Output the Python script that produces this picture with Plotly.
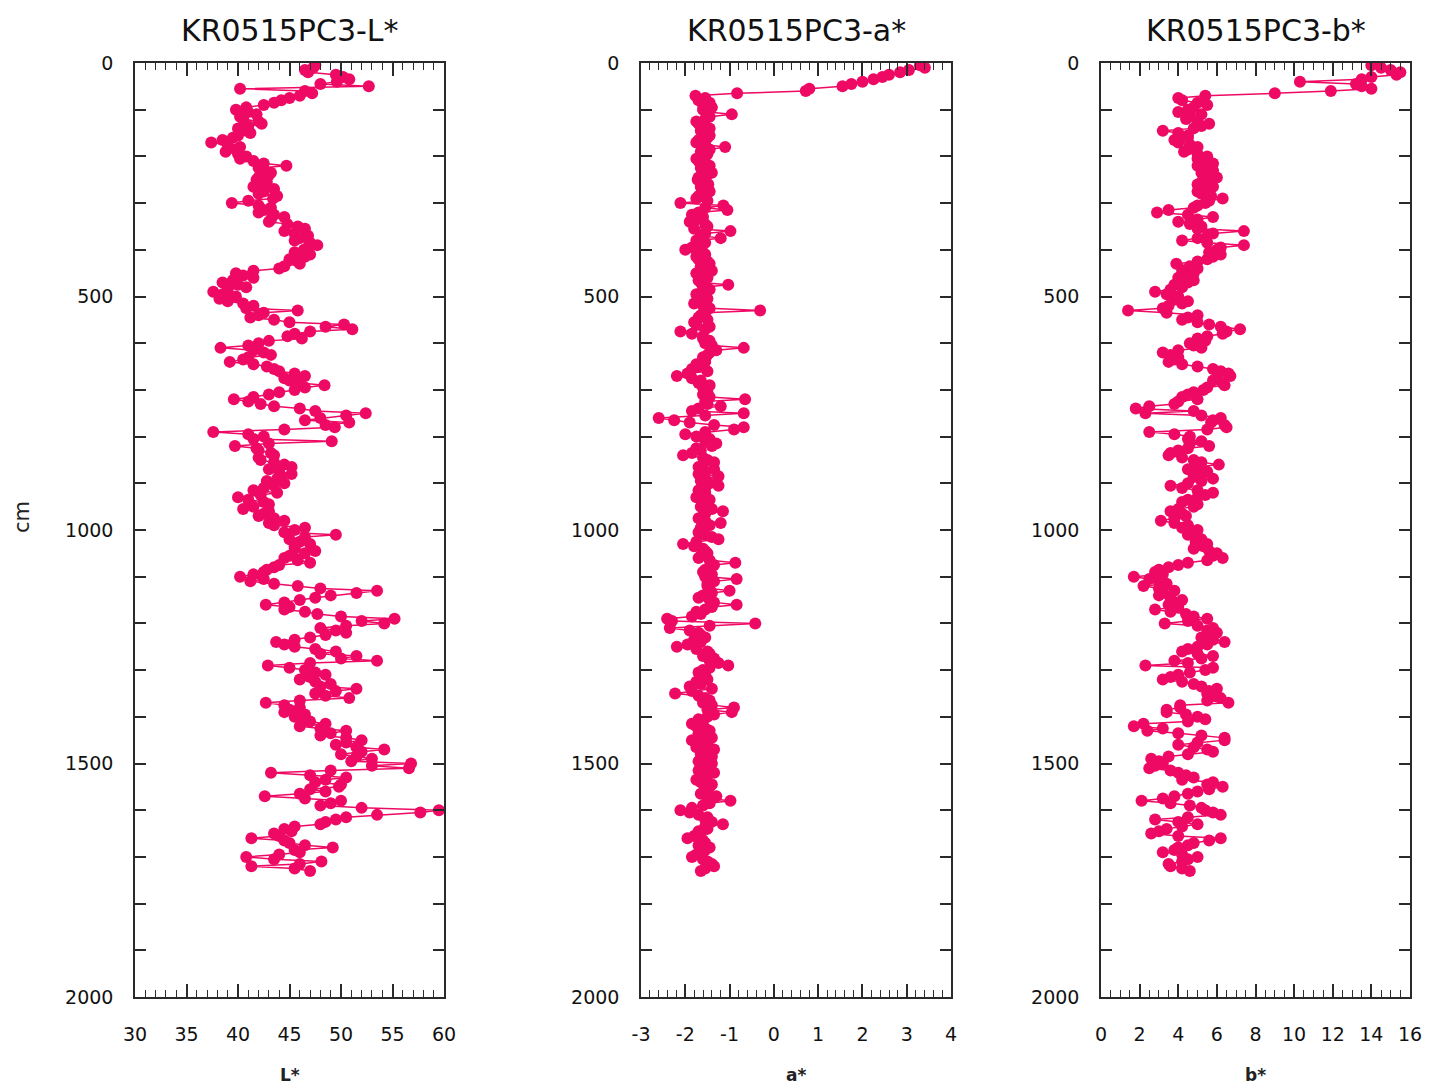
import plotly.graph_objects as go

# Core KR0515PC3 colour reflectance profiles, sampled every 5 cm
depth_cm = [
    5, 10, 15, 20, 25, 30, 35, 40, 45, 50,
    55, 60, 65, 70, 75, 80, 85, 90, 95, 100,
    105, 110, 115, 120, 125, 130, 135, 140, 145, 150,
    155, 160, 165, 170, 175, 180, 185, 190, 195, 200,
    205, 210, 215, 220, 225, 230, 235, 240, 245, 250,
    255, 260, 265, 270, 275, 280, 285, 290, 295, 300,
    305, 310, 315, 320, 325, 330, 335, 340, 345, 350,
    355, 360, 365, 370, 375, 380, 385, 390, 395, 400,
    405, 410, 415, 420, 425, 430, 435, 440, 445, 450,
    455, 460, 465, 470, 475, 480, 485, 490, 495, 500,
    505, 510, 515, 520, 525, 530, 535, 540, 545, 550,
    555, 560, 565, 570, 575, 580, 585, 590, 595, 600,
    605, 610, 615, 620, 625, 630, 635, 640, 645, 650,
    655, 660, 665, 670, 675, 680, 685, 690, 695, 700,
    705, 710, 715, 720, 725, 730, 735, 740, 745, 750,
    755, 760, 765, 770, 775, 780, 785, 790, 795, 800,
    805, 810, 815, 820, 825, 830, 835, 840, 845, 850,
    855, 860, 865, 870, 875, 880, 885, 890, 895, 900,
    905, 910, 915, 920, 925, 930, 935, 940, 945, 950,
    955, 960, 965, 970, 975, 980, 985, 990, 995, 1000,
    1005, 1010, 1015, 1020, 1025, 1030, 1035, 1040, 1045, 1050,
    1055, 1060, 1065, 1070, 1075, 1080, 1085, 1090, 1095, 1100,
    1105, 1110, 1115, 1120, 1125, 1130, 1135, 1140, 1145, 1150,
    1155, 1160, 1165, 1170, 1175, 1180, 1185, 1190, 1195, 1200,
    1205, 1210, 1215, 1220, 1225, 1230, 1235, 1240, 1245, 1250,
    1255, 1260, 1265, 1270, 1275, 1280, 1285, 1290, 1295, 1300,
    1305, 1310, 1315, 1320, 1325, 1330, 1335, 1340, 1345, 1350,
    1355, 1360, 1365, 1370, 1375, 1380, 1385, 1390, 1395, 1400,
    1405, 1410, 1415, 1420, 1425, 1430, 1435, 1440, 1445, 1450,
    1455, 1460, 1465, 1470, 1475, 1480, 1485, 1490, 1495, 1500,
    1505, 1510, 1515, 1520, 1525, 1530, 1535, 1540, 1545, 1550,
    1555, 1560, 1565, 1570, 1575, 1580, 1585, 1590, 1595, 1600,
    1605, 1610, 1615, 1620, 1625, 1630, 1635, 1640, 1645, 1650,
    1655, 1660, 1665, 1670, 1675, 1680, 1685, 1690, 1695, 1700,
    1705, 1710, 1715, 1720, 1725, 1730,
]

L_star = [
    47.5, 47.3, 46.5, 46.8, 49.5, 50.2, 50.8, 49.6, 48.0, 52.7,
    40.2, 46.5, 47.2, 46.0, 45.0, 44.2, 43.5, 42.5, 40.8, 39.8,
    41.0, 41.8, 40.2, 40.5, 42.0, 42.3, 41.0, 40.0, 40.8, 41.2,
    40.0, 39.5, 38.5, 37.4, 39.0, 40.2, 39.8, 38.8, 40.0, 40.8,
    40.2, 41.5, 42.5, 44.7, 42.0, 42.3, 43.2, 43.0, 42.0, 41.8,
    42.8, 42.6, 41.5, 43.5, 42.5, 42.0, 43.8, 43.4, 41.0, 39.4,
    42.0, 43.2, 42.5, 42.0, 43.5, 44.5, 43.2, 43.0, 44.8, 45.8,
    46.5, 44.5, 45.5, 46.8, 46.0, 45.5, 47.0, 47.7, 46.8, 46.4,
    45.5, 47.0, 46.5, 45.0, 45.8, 46.0, 44.5, 44.0, 41.5, 39.8,
    40.5, 41.5, 39.5, 38.5, 40.0, 40.8, 39.0, 37.6, 38.5, 39.8,
    38.2, 39.0, 40.5, 41.5, 40.8, 45.8, 42.5, 42.0, 41.2, 43.5,
    45.0, 50.3, 48.5, 51.1, 47.0, 45.5, 44.8, 46.2, 43.0, 42.0,
    41.0, 38.3, 41.5, 42.5, 43.2, 41.0, 40.5, 39.2, 41.5, 42.8,
    43.5, 44.0, 45.5, 46.5, 44.5, 45.0, 46.0, 48.4, 46.5, 45.5,
    44.0, 43.0, 41.5, 39.6, 41.0, 42.2, 43.5, 46.0, 47.5, 52.4,
    50.5, 48.0, 46.5, 50.8, 48.5, 49.4, 44.5, 37.6, 41.0, 42.5,
    41.5, 49.1, 43.0, 39.7, 41.8, 42.0, 43.2, 43.5, 42.0, 42.2,
    43.5, 44.5, 45.2, 43.0, 44.0, 45.2, 44.2, 43.8, 42.8, 44.5,
    43.5, 42.5, 41.5, 43.8, 42.2, 40.0, 41.0, 42.5, 43.0, 41.5,
    40.5, 43.0, 42.5, 42.0, 43.5, 44.5, 43.0, 43.5, 46.5, 45.5,
    44.5, 49.5, 46.5, 45.0, 46.0, 47.0, 45.5, 45.5, 47.5, 46.5,
    45.0, 44.5, 45.8, 47.0, 44.0, 43.5, 42.8, 42.5, 41.5, 40.2,
    42.5, 41.2, 43.5, 45.8, 48.0, 53.5, 51.5, 49.0, 47.5, 46.0,
    44.5, 42.7, 45.0, 44.5, 46.5, 47.7, 50.0, 55.2, 52.0, 54.2,
    50.5, 48.0, 49.5, 50.5, 48.5, 47.0, 45.5, 43.7, 44.5, 45.5,
    47.5, 49.5, 48.0, 51.5, 50.0, 53.5, 47.0, 42.9, 45.0, 46.5,
    47.5, 48.5, 47.0, 46.0, 47.5, 49.0, 48.0, 51.5, 49.5, 47.5,
    48.5, 50.8, 46.0, 42.7, 44.5, 46.0, 45.0, 44.5, 46.5, 45.5,
    46.5, 47.0, 48.5, 46.0, 48.0, 50.5, 49.0, 48.0, 50.5, 52.0,
    50.5, 49.5, 51.5, 54.2, 52.0, 50.0, 51.5, 53.0, 51.0, 56.8,
    53.0, 56.6, 49.0, 43.2, 47.0, 50.5, 48.5, 47.5, 50.0, 49.8,
    47.0, 48.5, 46.0, 42.6, 46.5, 50.0, 49.0, 48.0, 52.0, 59.5,
    57.7, 53.5, 50.5, 49.5, 48.5, 48.0, 45.5, 44.5, 45.2, 43.5,
    44.0, 41.3, 44.5, 45.0, 46.5, 49.2, 45.5, 46.0, 44.0, 40.8,
    43.5, 48.1, 46.0, 41.3, 45.5, 47.0,
]

a_star = [
    3.30, 3.41, 3.05, 2.85, 2.60, 2.45, 2.25, 2.00, 1.75, 1.55,
    0.80, 0.72, -0.83, -1.77, -1.55, -1.70, -1.45, -1.60, -1.40, -1.60,
    -1.50, -0.95, -1.45, -1.55, -1.75, -1.70, -1.55, -1.45, -1.65, -1.60,
    -1.45, -1.50, -1.70, -1.75, -1.55, -1.10, -1.45, -1.65, -1.50, -1.55,
    -1.75, -1.70, -1.55, -1.45, -1.65, -1.60, -1.40, -1.50, -1.70, -1.72,
    -1.55, -1.48, -1.65, -1.62, -1.45, -1.55, -1.70, -1.75, -1.50, -2.11,
    -1.14, -1.55, -1.05, -1.70, -1.85, -1.60, -1.75, -1.90, -1.55, -1.50,
    -1.80, -0.98, -1.55, -1.65, -1.20, -1.75, -1.55, -1.70, -1.85, -2.00,
    -1.60, -1.55, -1.75, -1.70, -1.50, -1.45, -1.65, -1.60, -1.40, -1.75,
    -1.55, -1.50, -1.70, -1.65, -1.03, -1.60, -1.45, -1.55, -1.75, -1.70,
    -1.50, -1.55, -1.80, -1.60, -1.45, -0.31, -1.55, -1.65, -1.70, -1.50,
    -1.80, -1.75, -1.45, -1.55, -2.11, -1.85, -1.60, -1.60, -1.45, -1.55,
    -1.40, -0.68, -1.30, -1.45, -1.50, -1.60, -1.55, -1.55, -1.75, -1.70,
    -1.85, -1.50, -1.95, -2.19, -1.85, -1.65, -1.70, -1.45, -1.60, -1.55,
    -1.50, -1.60, -1.45, -0.65, -1.55, -1.50, -1.20, -1.70, -1.85, -0.68,
    -1.55, -2.60, -2.25, -1.90, -1.35, -0.68, -0.90, -1.55, -2.00, -1.75,
    -1.45, -1.55, -1.30, -1.40, -1.75, -1.65, -1.85, -2.05, -1.60, -1.50,
    -1.35, -1.60, -1.70, -1.35, -1.55, -1.70, -1.25, -1.55, -1.65, -1.45,
    -1.25, -1.55, -1.70, -1.55, -1.65, -1.75, -1.45, -1.50, -1.60, -1.65,
    -1.40, -1.15, -1.55, -1.60, -1.70, -1.55, -1.20, -1.45, -1.65, -1.60,
    -1.70, -1.55, -1.40, -1.25, -1.75, -2.05, -1.80, -1.60, -1.55, -1.50,
    -1.65, -1.70, -1.45, -0.87, -1.35, -1.45, -1.55, -1.60, -1.40, -1.55,
    -0.84, -1.35, -1.50, -1.50, -1.45, -1.00, -1.40, -1.60, -1.70, -1.45,
    -1.35, -0.84, -1.40, -1.55, -1.75, -1.65, -1.85, -2.41, -2.30, -0.42,
    -1.45, -2.35, -1.90, -1.70, -1.65, -1.55, -1.80, -1.65, -1.95, -2.19,
    -1.75, -1.50, -1.45, -1.60, -1.35, -1.45, -1.25, -1.03, -1.45, -1.60,
    -1.70, -1.55, -1.65, -1.50, -1.75, -1.65, -1.90, -1.40, -1.85, -2.23,
    -1.70, -1.55, -1.45, -1.60, -1.40, -0.90, -1.50, -0.95, -1.35, -1.50,
    -1.70, -1.60, -1.85, -1.75, -1.55, -1.45, -1.70, -1.55, -1.40, -1.85,
    -1.65, -1.50, -1.75, -1.35, -1.55, -1.65, -1.40, -1.55, -1.70, -1.40,
    -1.60, -1.55, -1.70, -1.35, -1.50, -1.60, -1.75, -1.65, -1.40, -1.45,
    -1.55, -1.50, -1.65, -1.30, -1.50, -0.98, -1.45, -1.60, -1.85, -2.11,
    -1.90, -1.70, -1.50, -1.55, -1.40, -1.15, -1.55, -1.50, -1.70, -1.65,
    -1.80, -1.95, -1.60, -1.55, -1.70, -1.45, -1.55, -1.60, -1.75, -1.85,
    -1.60, -1.50, -1.40, -1.35, -1.55, -1.65,
]

b_star = [
    14.0, 14.5, 15.0, 15.5, 15.3, 14.0, 13.5, 10.3, 13.2, 13.5,
    14.0, 11.9, 9.0, 5.4, 4.0, 4.2, 5.0, 5.5, 4.8, 4.5,
    4.0, 5.2, 4.6, 4.4, 5.0, 5.6, 5.2, 4.8, 3.2, 4.0,
    4.5, 4.5, 3.8, 4.0, 4.6, 5.0, 4.5, 4.3, 5.0, 5.5,
    5.0, 5.3, 5.8, 5.0, 5.5, 5.8, 5.2, 5.4, 6.0, 5.6,
    5.2, 5.0, 5.8, 5.5, 5.0, 5.2, 5.7, 6.3, 5.6, 5.4,
    5.0, 4.8, 3.5, 2.9, 4.5, 5.8, 5.0, 4.0, 4.6, 5.2,
    5.0, 7.4, 5.8, 5.5, 5.0, 4.2, 5.5, 7.4, 6.2, 6.0,
    5.6, 6.2, 5.8, 5.5, 5.0, 3.9, 4.6, 5.0, 4.2, 4.8,
    4.4, 4.0, 4.8, 4.5, 3.8, 4.2, 3.6, 2.8, 3.4, 4.0,
    3.8, 4.5, 4.2, 3.5, 3.2, 1.4, 3.4, 5.0, 4.5, 4.2,
    5.0, 5.6, 6.2, 7.2, 6.5, 6.3, 5.5, 5.0, 5.4, 4.6,
    4.8, 5.2, 4.0, 3.2, 3.6, 4.0, 3.8, 3.5, 4.2, 5.0,
    5.8, 6.2, 6.6, 6.7, 6.0, 5.8, 6.3, 6.4, 5.5, 5.3,
    4.8, 4.5, 4.2, 5.0, 4.0, 3.8, 2.5, 1.8, 4.8, 2.3,
    5.2, 6.2, 5.8, 5.7, 6.4, 6.5, 5.5, 2.5, 3.8, 4.6,
    4.5, 5.2, 4.6, 5.6, 4.5, 4.0, 3.6, 3.5, 4.2, 4.8,
    5.2, 6.1, 5.0, 4.5, 5.5, 5.2, 4.8, 5.8, 5.2, 4.5,
    3.6, 4.2, 5.0, 5.8, 5.4, 5.0, 4.5, 4.2, 5.0, 4.8,
    4.0, 3.6, 4.2, 4.4, 3.8, 3.1, 3.8, 4.5, 4.2, 5.0,
    4.8, 4.5, 5.0, 5.2, 4.9, 5.5, 5.3, 4.8, 5.6, 6.0,
    5.8, 6.3, 5.5, 4.5, 4.0, 3.5, 3.0, 2.8, 3.2, 1.7,
    2.5, 3.0, 3.4, 2.2, 3.0, 3.8, 3.2, 3.0, 3.6, 4.2,
    3.8, 3.5, 4.0, 2.8, 3.6, 4.4, 4.8, 5.5, 4.5, 3.3,
    5.0, 5.8, 5.5, 6.0, 5.6, 5.2, 5.8, 6.4, 5.5, 5.0,
    4.5, 4.2, 5.0, 5.8, 5.2, 3.8, 4.5, 2.3, 5.8, 5.4,
    4.6, 4.0, 3.6, 3.2, 4.2, 4.8, 5.2, 6.0, 5.6, 5.5,
    5.8, 6.2, 5.5, 6.6, 4.1, 4.1, 3.4, 3.4, 4.4, 5.0,
    5.4, 4.5, 2.2, 1.7, 3.2, 2.4, 4.0, 5.2, 6.4, 6.4,
    5.0, 4.0, 4.8, 5.5, 5.8, 4.5, 3.5, 2.6, 3.0, 3.2,
    2.8, 2.5, 3.6, 4.0, 4.4, 4.8, 4.2, 5.8, 5.5, 6.3,
    5.6, 5.0, 4.5, 3.8, 3.2, 2.1, 3.6, 4.6, 5.2, 5.4,
    5.8, 6.2, 4.5, 2.8, 4.0, 5.0, 4.2, 3.4, 3.0, 2.6,
    4.0, 6.2, 5.6, 4.8, 4.5, 4.0, 3.8, 3.2, 4.2, 5.0,
    4.5, 4.2, 3.5, 3.6, 4.2, 4.6,
]

panel_titles = ["KR0515PC3-L*", "KR0515PC3-a*", "KR0515PC3-b*"]
x_titles = ["L*", "a*", "b*"]
x_ranges = [[30, 60], [-3, 4], [0, 16]]
x_tickvals = [
    [30, 35, 40, 45, 50, 55, 60],
    [-3, -2, -1, 0, 1, 2, 3, 4],
    [0, 2, 4, 6, 8, 10, 12, 14, 16],
]
x_minor = [1, 0.2, 0.5]
depth_ticks = [0, 500, 1000, 1500, 2000]
series = [L_star, a_star, b_star]

PINK = "#EE0A64"
FRAME = "#2a2a2a"
FONT = "DejaVu Sans"
W, H = 1430, 1090

# panel edges in pixels (left, right), shared top/bottom
panel_px = [(135, 444), (641, 951), (1101, 1410)]
top_px, bottom_px = 63, 997

fig = go.Figure()
annotations = []

for i in range(3):
    n = "" if i == 0 else str(i + 1)
    fig.add_trace(go.Scatter(
        x=series[i], y=depth_cm, mode="lines+markers",
        xaxis="x" + n, yaxis="y" + n,
        line=dict(color=PINK, width=1.5),
        marker=dict(color=PINK, size=12),
        hoverinfo="skip", showlegend=False,
    ))
    left, right = panel_px[i]
    dom_x = [left / W, right / W]
    dom_y = [1 - bottom_px / H, 1 - top_px / H]
    fig.update_layout(**{
        "xaxis" + n: dict(
            domain=dom_x, range=x_ranges[i], anchor="y" + n, automargin=False,
            showgrid=False, zeroline=False,
            showline=True, linecolor=FRAME, linewidth=1.5, mirror="allticks",
            ticks="inside", ticklen=13, tickwidth=1.5, tickcolor=FRAME,
            tickvals=x_tickvals[i], ticktext=[str(v) for v in x_tickvals[i]],
            minor=dict(ticks="inside", ticklen=7, tickwidth=1.2,
                       tickcolor=FRAME, dtick=x_minor[i], tick0=x_ranges[i][0]),
            tickfont=dict(family=FONT, size=19, color="#111"),
            ticklabelstandoff=19,
        ),
        "yaxis" + n: dict(
            domain=dom_y, range=[2000, 0], anchor="x" + n, automargin=False,
            showgrid=False, zeroline=False,
            showline=True, linecolor=FRAME, linewidth=1.5, mirror="allticks",
            ticks="inside", ticklen=11, tickwidth=1.5, tickcolor=FRAME,
            tickvals=depth_ticks, ticktext=[str(v) for v in depth_ticks],
            minor=dict(ticks="inside", ticklen=11, tickwidth=1.5,
                       tickcolor=FRAME, dtick=100, tick0=0),
            tickfont=dict(family=FONT, size=19, color="#111"),
            ticklabelstandoff=16,
        ),
    })
    cx = (left + right) / 2 / W
    annotations.append(dict(
        text=panel_titles[i], x=cx, y=1 - 30 / H, xref="paper", yref="paper",
        showarrow=False, xanchor="center", yanchor="middle",
        font=dict(family=FONT, size=30, color="#111"),
    ))
    annotations.append(dict(
        text="<b>" + x_titles[i] + "</b>", x=cx, y=1 - 1075 / H,
        xref="paper", yref="paper",
        showarrow=False, xanchor="center", yanchor="middle",
        font=dict(family=FONT, size=17, color="#222"),
    ))

annotations.append(dict(
    text="cm", x=22 / W, y=1 - 517 / H, xref="paper", yref="paper",
    showarrow=False, textangle=-90, xanchor="center", yanchor="middle",
    font=dict(family=FONT, size=21, color="#222"),
))

fig.update_layout(
    width=W, height=H,
    margin=dict(l=0, r=0, t=0, b=0),
    paper_bgcolor="white", plot_bgcolor="white",
    annotations=annotations,
)

fig.write_html("out.html")
